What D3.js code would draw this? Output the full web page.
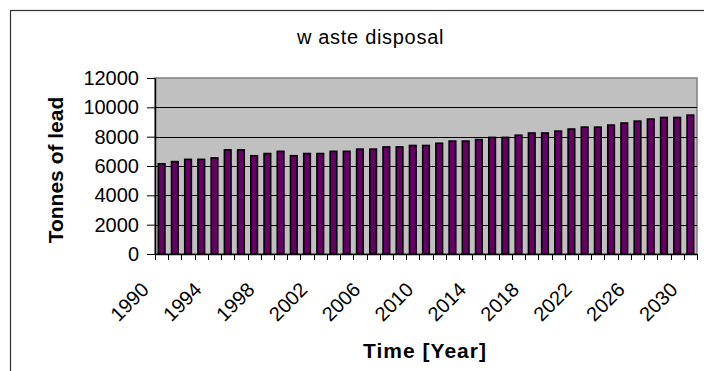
<!DOCTYPE html>
<html>
<head>
<meta charset="utf-8">
<script src="https://cdn.jsdelivr.net/npm/d3@7/dist/d3.min.js"></script>
<style>
  html, body { margin: 0; padding: 0; background: #fff; }
  svg { display: block; }
  text { font-family: "Liberation Sans", Arial, sans-serif; fill: #000; }
</style>
</head>
<body>
<svg id="chart" width="704" height="371"></svg>
<script>
const years = d3.range(1990, 2031).map(String);
const values = [6150, 6300, 6450, 6450, 6550, 7100, 7100, 6700, 6850, 7000,
                6700, 6850, 6850, 7000, 7000, 7150, 7150, 7300, 7300, 7400,
                7400, 7550, 7700, 7700, 7800, 7950, 7950, 8100, 8250, 8250,
                8380, 8520, 8650, 8650, 8790, 8930, 9060, 9200, 9310, 9310, 9470];
const yTicks = [0, 2000, 4000, 6000, 8000, 10000, 12000];
const xLabels = ["1990", "1994", "1998", "2002", "2006", "2010", "2014", "2018", "2022", "2026", "2030"];
const title = "w aste disposal";
const xTitle = "Time [Year]";
const yTitle = "Tonnes of lead";

const svg = d3.select("#chart");
const plot = { left: 155, right: 697, top: 78, bottom: 254 };

// outer chart frame
svg.append("rect")
  .attr("x", 10.5).attr("y", 10.5).attr("width", 800).attr("height", 500)
  .attr("fill", "#fff").attr("stroke", "#333").attr("stroke-width", 1.2);

const x = d3.scaleBand().domain(years).range([plot.left, plot.right])
  .paddingInner(0.5).paddingOuter(0.25);
const y = d3.scaleLinear().domain([0, 12000]).range([plot.bottom, plot.top]);

// plot area
svg.append("rect")
  .attr("x", plot.left).attr("y", plot.top)
  .attr("width", plot.right - plot.left).attr("height", plot.bottom - plot.top)
  .attr("fill", "#c0c0c0").attr("stroke", "#808080").attr("stroke-width", 1.5);

// gridlines
svg.append("g").selectAll("line").data(yTicks.filter(d => d > 0 && d < 12000)).join("line")
  .attr("x1", plot.left).attr("x2", plot.right)
  .attr("y1", d => Math.round(y(d)) + 0.5).attr("y2", d => Math.round(y(d)) + 0.5)
  .attr("stroke", "#000").attr("stroke-width", 1);

// bars
svg.append("g").selectAll("rect").data(values).join("rect")
  .attr("x", (d, i) => x(years[i]))
  .attr("y", d => y(d))
  .attr("width", x.bandwidth())
  .attr("height", d => plot.bottom - y(d))
  .attr("fill", "#660066").attr("stroke", "#000").attr("stroke-width", 1.6);

// y axis
const yAxis = svg.append("g").attr("transform", `translate(${plot.left},0)`)
  .call(d3.axisLeft(y).tickValues(yTicks).tickSizeInner(8).tickSizeOuter(0).tickPadding(8).tickFormat(d3.format("d")));
yAxis.select(".domain").attr("stroke", "#000").attr("stroke-width", 1.5);
yAxis.selectAll(".tick line").attr("stroke", "#000");
yAxis.selectAll(".tick text").attr("font-size", 20).attr("font-family", "Liberation Sans, Arial, sans-serif").attr("fill", "#000");

// x axis line
svg.append("line")
  .attr("x1", plot.left).attr("x2", plot.right)
  .attr("y1", plot.bottom + 0.5).attr("y2", plot.bottom + 0.5)
  .attr("stroke", "#000").attr("stroke-width", 1.5);

// x ticks at category boundaries
const step = x.step();
const boundaries = years.map((yr, i) => x(yr) - x.paddingOuter() * step).concat([plot.right]);
svg.append("g").selectAll("line").data(boundaries).join("line")
  .attr("x1", d => Math.round(d) + 0.5).attr("x2", d => Math.round(d) + 0.5)
  .attr("y1", plot.bottom).attr("y2", plot.bottom + 6)
  .attr("stroke", "#000").attr("stroke-width", 1);

// x labels
svg.append("g").selectAll("text").data(xLabels).join("text")
  .attr("transform", d => `translate(${x(d) + x.bandwidth() / 2 - 11.5},291) rotate(-45)`)
  .attr("text-anchor", "end")
  .attr("font-size", 20)
  .text(d => d);

// titles
svg.append("text").attr("x", 370.5).attr("y", 44).attr("text-anchor", "middle")
  .attr("font-size", 20).attr("letter-spacing", 0.7).text(title);
svg.append("text").attr("x", 425).attr("y", 358).attr("text-anchor", "middle")
  .attr("font-size", 21).attr("font-weight", "bold").attr("letter-spacing", 1).text(xTitle);
svg.append("text").attr("transform", "translate(63,170) rotate(-90)").attr("text-anchor", "middle")
  .attr("font-size", 21).attr("font-weight", "bold").text(yTitle);
</script>
</body>
</html>
